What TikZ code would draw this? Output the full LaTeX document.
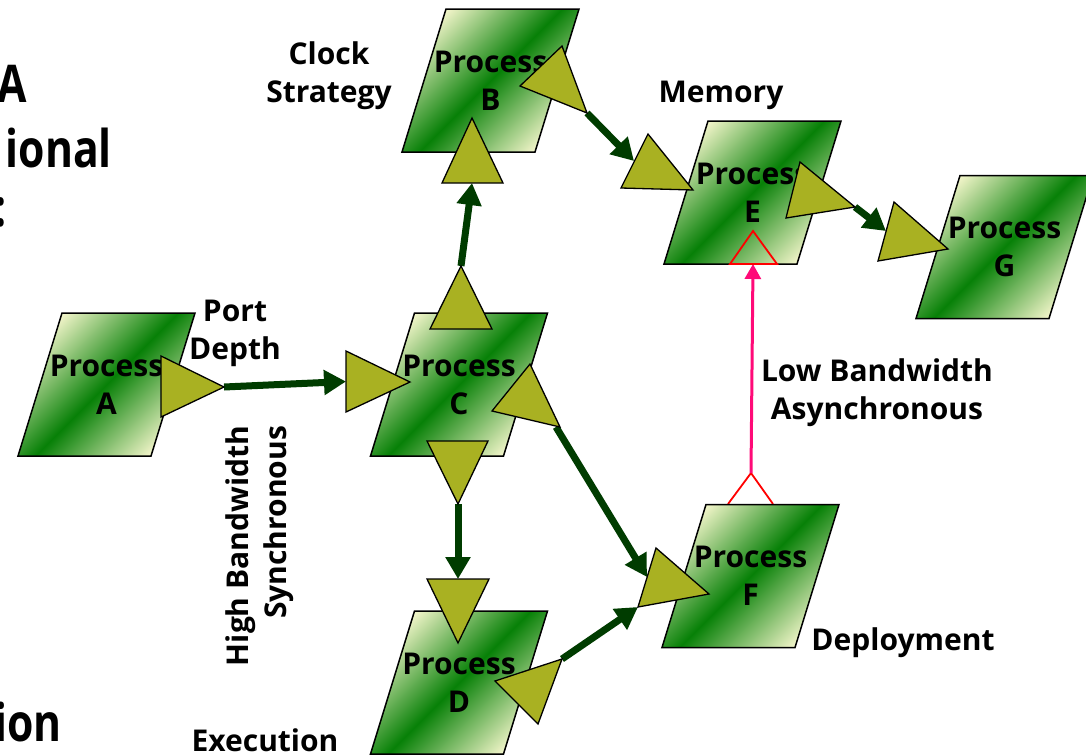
\documentclass[tikz,border=0pt]{standalone}
\usepackage{fontspec}
\setmainfont{Open Sans}
\usetikzlibrary{arrows.meta}
\definecolor{cream}{HTML}{EEF3C6}
\definecolor{pgreen}{HTML}{078007}
\definecolor{portol}{HTML}{A9B122}
\definecolor{dgreen}{HTML}{003C00}
\definecolor{pinkln}{HTML}{FF0A78}
\newcommand\procbox[4]{%
  \path[procshade] (#2-88.5,#3+71.5) -- (#2+44.5,#3+71.5) -- (#2+88.5,#3-71.5) -- (#2-44.5,#3-71.5) -- cycle;
  \node[proctext] (#1) at (#2,#3) {Process\\#4};}
\begin{document}
\begin{tikzpicture}[x=1pt,y=-1pt,
  procshade/.style={draw=black, line width=1.5pt, line join=miter, top color=cream, bottom color=cream, middle color=pgreen, shading angle=45},
  proctext/.style={font=\bfseries\fontsize{30}{38}\selectfont, align=center, inner sep=0pt},
  lbl/.style={font=\bfseries\fontsize{30}{38}\selectfont, align=center, inner sep=0pt},
  bigtxt/.style={font=\bfseries\fontsize{52}{65}\selectfont, inner sep=0pt, anchor=base east, xscale=0.82, transform shape},
  port/.style={fill=portol, draw=black, line width=1.3pt, line join=miter},
  redport/.style={draw=red, line width=1.8pt, line join=miter},
  conn/.style={draw=dgreen, line width=7pt, -{Triangle[length=22pt,width=24pt]}},
  pinkconn/.style={draw=pinkln, line width=3pt, -{Triangle[length=15pt,width=16pt]}}]
\useasboundingbox (0,0) rectangle (1086,755);
\fill[white] (0,0) rectangle (1086,755);

% cut-off title text at the left edge
\node[bigtxt] (t1) at (27,102) {A};
\node[bigtxt] (t2) at (112,167) {ional};
\node[bigtxt] (t3) at (7,226) {:};
\node[bigtxt] (t4) at (62,741) {ion};

% port coordinates
\coordinate (Aout) at (224,387);
\coordinate (Cin) at (346,381.5);
\coordinate (Ctop) at (461,266);
\coordinate (Bbot) at (472,183);
\coordinate (Bout) at (587,113);
\coordinate (Ein) at (634,161);
\coordinate (Eout) at (855,207);
\coordinate (Gin) at (886,231);
\coordinate (Cbot) at (458,504);
\coordinate (Dtop) at (458,579);
\coordinate (Cright) at (556,427);
\coordinate (Fin) at (647,577);
\coordinate (Dright) at (562,659);
\coordinate (Fcorner) at (638,607);
\coordinate (Ftop) at (751,473);
\coordinate (Ebot) at (753,264);

% red port on top of F (base hidden by F's border)
\draw[redport] (728,504) -- (751,473) -- (773,504);

% process boxes
\procbox{A}{106.5}{384.5}{A}
\procbox{B}{490.5}{80.5}{B}
\procbox{C}{459}{384.5}{C}
\procbox{D}{459}{682.5}{D}
\procbox{E}{752.5}{192.5}{E}
\procbox{F}{750.5}{576}{F}
\procbox{G}{1004.5}{247}{G}

% connectors
\draw[conn] (Aout) -- (Cin);
\draw[conn] (Ctop) -- (Bbot);
\draw[conn] (Bout) -- (Ein);
\draw[conn] (Eout) -- (Gin);
\draw[conn] (Cbot) -- (Dtop);
\draw[conn] (Cright) -- (Fin);
\draw[conn] (Dright) -- (Fcorner);
\draw[pinkconn] (Ftop) -- (Ebot);

% ports
\draw[port] (161,356) -- (161,417) -- (224,387) -- cycle;
\draw[port] (346,351) -- (346,412) -- (410,382) -- cycle;
\draw[port] (430,329) -- (492,329) -- (461,266) -- cycle;
\draw[port] (530,364) -- (492,411) -- (560,427) -- cycle;
\draw[port] (427,441) -- (488,441) -- (458,504) -- cycle;
\draw[port] (427,579) -- (489,579) -- (458,643) -- cycle;
\draw[port] (495,681) -- (562,659) -- (538,724) -- cycle;
\draw[port] (442,183) -- (503,183) -- (472,118) -- cycle;
\draw[port] (520,86) -- (562,46) -- (587,113) -- cycle;
\draw[port] (648,134) -- (621,188) -- (693,190) -- cycle;
\draw[port] (800,162) -- (786,218) -- (855,207) -- cycle;
\draw[port] (894,202) -- (878,261) -- (948,249) -- cycle;
\draw[port] (656,548) -- (638,607) -- (709,594) -- cycle;
\draw[redport] (730,264) -- (777,264) -- (753,231) -- cycle;

% labels
\node[lbl] (clock) at (329,76) {Clock\\Strategy};
\node[lbl] (mem) at (721,95) {Memory};
\node[lbl] (port) at (235,333) {Port\\Depth};
\node[lbl, rotate=90, align=right] (hbw) at (260,546) {High Bandwidth\\Synchronous};
\node[lbl] (exec) at (265,740.5) {Execution};
\node[lbl] (lbw) at (877,393) {Low Bandwidth\\Asynchronous};
\node[lbl] (dep) at (903,642.5) {Deployment};
\end{tikzpicture}
\end{document}
